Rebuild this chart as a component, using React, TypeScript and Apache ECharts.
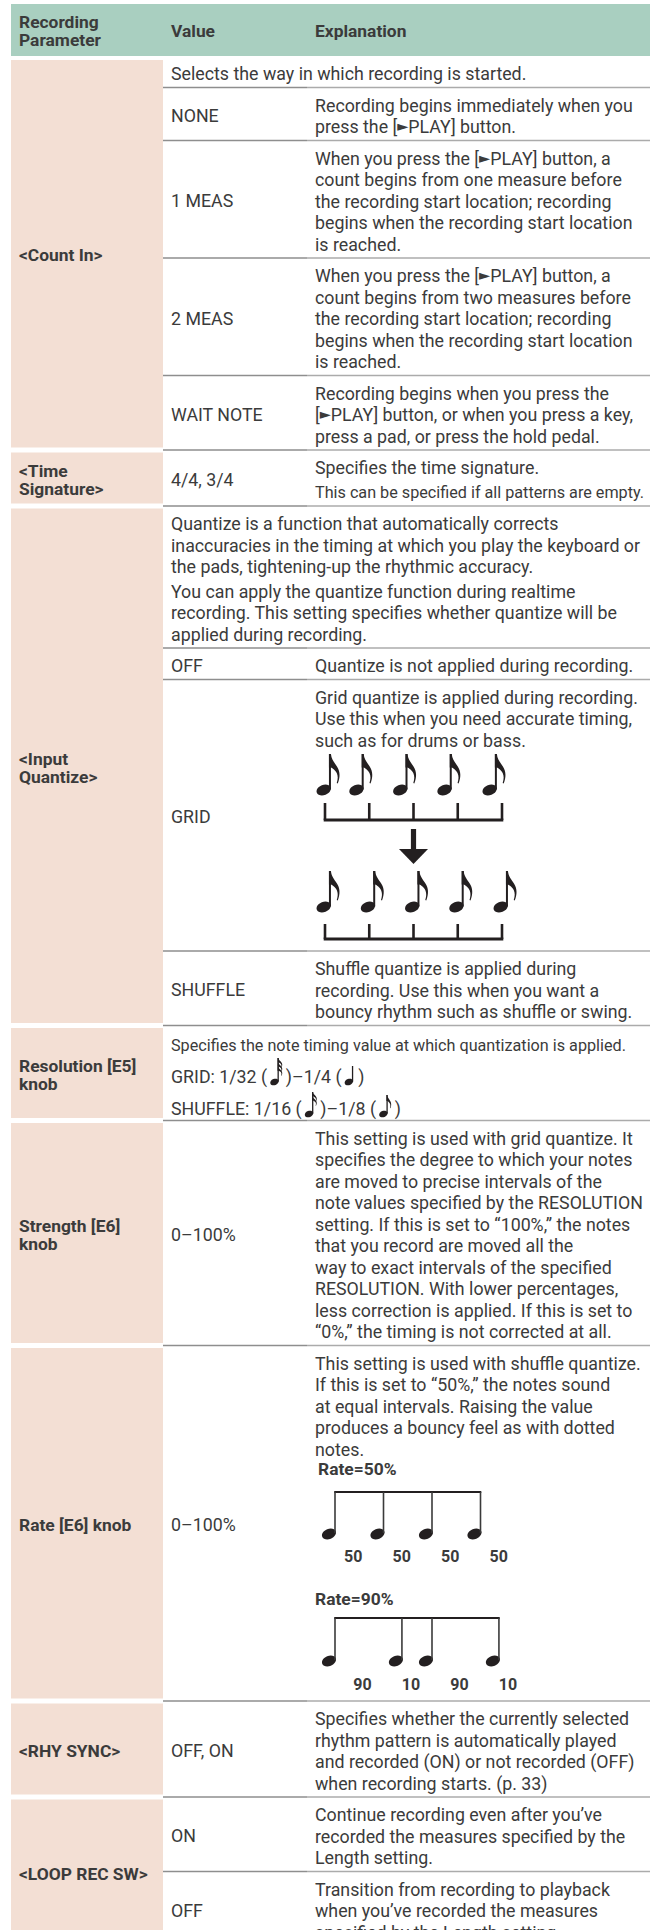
import React, { useEffect, useRef } from "react";
import * as echarts from "echarts";

// ---------------- data ----------------
const headerTitles = ["Recording\nParameter", "Value", "Explanation"];
const parameterLabels = [
  "<Count In>",
  "<Time\nSignature>",
  "<Input\nQuantize>",
  "Resolution [E5]\nknob",
  "Strength [E6]\nknob",
  "Rate [E6] knob",
  "<RHY SYNC>",
  "<LOOP REC SW>",
];

const countInIntro = ["Selects the way in which recording is started."];
const countInValues = ["NONE", "1 MEAS", "2 MEAS", "WAIT NOTE"];
const countInExplanations = [
  ["Recording begins immediately when you", "press the [►PLAY] button."],
  [
    "When you press the [►PLAY] button, a",
    "count begins from one measure before",
    "the recording start location; recording",
    "begins when the recording start location",
    "is reached.",
  ],
  [
    "When you press the [►PLAY] button, a",
    "count begins from two measures before",
    "the recording start location; recording",
    "begins when the recording start location",
    "is reached.",
  ],
  [
    "Recording begins when you press the",
    "[►PLAY] button, or when you press a key,",
    "press a pad, or press the hold pedal.",
  ],
];

const timeSignatureValue = "4/4, 3/4";
const timeSignatureExplanation = "Specifies the time signature.";
const timeSignatureNote = "This can be specified if all patterns are empty.";

const quantizeIntro = [
  [
    "Quantize is a function that automatically corrects",
    "inaccuracies in the timing at which you play the keyboard or",
    "the pads, tightening-up the rhythmic accuracy.",
  ],
  [
    "You can apply the quantize function during realtime",
    "recording. This setting specifies whether quantize will be",
    "applied during recording.",
  ],
];
const quantizeValues = ["OFF", "GRID", "SHUFFLE"];
const quantizeExplanations = [
  ["Quantize is not applied during recording."],
  [
    "Grid quantize is applied during recording.",
    "Use this when you need accurate timing,",
    "such as for drums or bass.",
  ],
  [
    "Shuffle quantize is applied during",
    "recording. Use this when you want a",
    "bouncy rhythm such as shuffle or swing.",
  ],
];
const gridPlayedTiming = [0, 0.74, 1.73, 2.73, 3.75];
const gridQuantizedTiming = [0, 1, 2, 3, 4];

const resolutionIntro = "Specifies the note timing value at which quantization is applied.";
const resolutionGridParts = ["GRID: 1/32 (", ")–1/4 (", ")"];
const resolutionGridNotes = [32, 4];
const resolutionShuffleParts = ["SHUFFLE: 1/16 (", ")–1/8 (", ")"];
const resolutionShuffleNotes = [16, 8];

const strengthValue = "0–100%";
const strengthExplanation = [
  "This setting is used with grid quantize. It",
  "specifies the degree to which your notes",
  "are moved to precise intervals of the",
  "note values specified by the RESOLUTION",
  "setting. If this is set to “100%,” the notes",
  "that you record are moved all the",
  "way to exact intervals of the specified",
  "RESOLUTION. With lower percentages,",
  "less correction is applied. If this is set to",
  "“0%,” the timing is not corrected at all.",
];

const rateValue = "0–100%";
const rateExplanation = [
  "This setting is used with shuffle quantize.",
  "If this is set to “50%,” the notes sound",
  "at equal intervals. Raising the value",
  "produces a bouncy feel as with dotted",
  "notes.",
];
const rateExampleTitles = ["Rate=50%", "Rate=90%"];
const rateExampleTiming = [
  [0, 0.5, 1, 1.5],
  [0, 0.69, 1, 1.69],
];
const rateExampleNumbers = [
  ["50", "50", "50", "50"],
  ["90", "10", "90", "10"],
];

const rhySyncValue = "OFF, ON";
const rhySyncExplanation = [
  "Specifies whether the currently selected",
  "rhythm pattern is automatically played",
  "and recorded (ON) or not recorded (OFF)",
  "when recording starts. (p. 33)",
];

const loopValues = ["ON", "OFF"];
const loopExplanations = [
  ["Continue recording even after you’ve", "recorded the measures specified by the", "Length setting."],
  ["Transition from recording to playback", "when you’ve recorded the measures", "specified by the Length setting."],
];

// ---------------- layout / style ----------------
const PAGE_W = 652;
const PAGE_H = 1930;
const FONT = "Roboto, 'Noto Sans', sans-serif";
const TEXT_COLOR = "#3b3b3b";
const INK = "#231f20";
const HEADER_BG = "#a9cfc0";
const PINK = "#f3dfd4";
const SEP_DARK = "#8e8e8e";
const SEP_LIGHT = "#ababab";

const TABLE_L = 11;
const TABLE_R = 650;
const LABEL_R = 163;
const LABEL_X = 19;
const VALUE_X = 171;
const EXPL_X = 315;
const HEADER_TOP = 4;
const HEADER_BOTTOM = 56;

const FS = 17.8;
const FS_SMALL = 16.2;
const FS_BOLD = 17.4;
const LH = 21.5;
const PAD_T = 17.5;
const PAD_B = 14;
const LABEL_LH = 18.5;

const GRID_X0 = 325;
const GRID_STEP = 44.25;
const RATE_X0 = 335;
const RATE_BEAT = 97;

const FLAG_D =
  "M0,0 L2,0 C2.4,5.5 5.5,8.5 8,12.5 C11,17 11.5,22.5 8.8,29.5 L7.8,29 C9.8,23 8.6,18.5 5,15.5 C3.6,14.3 2.4,13.7 2,13.5 L0,13.5 Z";

let shapesRegistered = false;
function ensureShapes() {
  if (shapesRegistered) return;
  echarts.graphic.registerShape("noteFlag", echarts.graphic.extendPath(FLAG_D, {}) as any);
  shapesRegistered = true;
}

function makeMeasurer() {
  const ctx = document.createElement("canvas").getContext("2d");
  return (s: string, size: number, bold = false) => {
    if (!ctx) return s.length * size * 0.5;
    ctx.font = `${bold ? "bold " : ""}${size}px Roboto`;
    return ctx.measureText(s).width;
  };
}

function buildElements() {
  const bg: any[] = [];
  const fg: any[] = [];
  const measure = makeMeasurer();

  const txt = (
    x: number,
    y: number,
    s: string,
    o: { size?: number; bold?: boolean; color?: string; align?: string } = {}
  ) => {
    const align = o.align ?? "left";
    const hasTri = s.indexOf("►") >= 0;
    const style: any = {
      text: hasTri ? s.replace(/►/g, "{tri|►}") : s,
      fill: o.color ?? TEXT_COLOR,
      fontSize: o.size ?? FS,
      fontFamily: FONT,
      fontWeight: o.bold ? "bold" : "normal",
      align,
      verticalAlign: "middle",
      textAlign: align,
      textVerticalAlign: "middle",
    };
    if (hasTri) {
      style.rich = {
        tri: {
          fontSize: 14.5,
          fontFamily: "'DejaVu Sans', sans-serif",
          fill: o.color ?? TEXT_COLOR,
          verticalAlign: "middle",
          padding: [0, 0, 1, 0],
        },
      };
    }
    fg.push({ type: "text", x, y, silent: true, style });
  };

  const rect = (x: number, y: number, w: number, h: number, fill: string, target = fg) =>
    target.push({ type: "rect", silent: true, shape: { x, y, width: w, height: h }, style: { fill } });

  const sep = (y: number) => {
    if (y > PAGE_H) return;
    fg.push({
      type: "line",
      silent: true,
      shape: { x1: LABEL_R, y1: y, x2: EXPL_X - 8, y2: y },
      style: { stroke: SEP_DARK, lineWidth: 1.3 },
    });
    fg.push({
      type: "line",
      silent: true,
      shape: { x1: EXPL_X - 8, y1: y, x2: TABLE_R, y2: y },
      style: { stroke: SEP_LIGHT, lineWidth: 1.3 },
    });
  };

  const note = (
    cx: number,
    cy: number,
    o: { rx: number; ry: number; stemTop: number; stemW: number; flags: number; flagS?: number; flagSY?: number; flagGap?: number; color?: string }
  ) => {
    const color = o.color ?? INK;
    fg.push({
      type: "ellipse",
      silent: true,
      x: cx,
      y: cy,
      rotation: 0.38,
      shape: { cx: 0, cy: 0, rx: o.rx, ry: o.ry },
      style: { fill: color },
    });
    const stemX = cx + o.rx * 0.98 - o.stemW;
    rect(stemX, o.stemTop, o.stemW, cy - o.stemTop - 0.5, color);
    for (let k = 0; k < o.flags; k++) {
      fg.push({
        type: "noteFlag",
        silent: true,
        x: stemX,
        y: o.stemTop + k * (o.flagGap ?? 0),
        scaleX: o.flagS ?? 1,
        scaleY: o.flagSY ?? o.flagS ?? 1,
        style: { fill: color },
      });
    }
    return stemX + o.stemW;
  };

  // ---------- header ----------
  rect(TABLE_L, HEADER_TOP, TABLE_R - TABLE_L, HEADER_BOTTOM - HEADER_TOP, HEADER_BG, bg);
  const headMid = (HEADER_TOP + HEADER_BOTTOM) / 2 + 1;
  const firstHeader = headerTitles[0].split("\n");
  firstHeader.forEach((l, i) =>
    txt(LABEL_X, headMid + (i - (firstHeader.length - 1) / 2) * 18, l, { bold: true, size: FS_BOLD })
  );
  txt(VALUE_X, headMid, headerTitles[1], { bold: true, size: FS_BOLD });
  txt(EXPL_X, headMid, headerTitles[2], { bold: true, size: FS_BOLD });

  // ---------- body ----------
  let y = HEADER_BOTTOM;
  let sectionTop = y;
  let sectionIndex = 0;

  const beginSection = () => {
    sectionTop = y;
  };
  const endSection = () => {
    const top = sectionTop + (sectionIndex === 0 ? 4 : 2.5);
    const bottom = Math.min(y - 2.5, PAGE_H + 10);
    rect(TABLE_L, top, LABEL_R - TABLE_L, bottom - top, PINK, bg);
    const lines = parameterLabels[sectionIndex].split("\n");
    const mid = (sectionTop + y) / 2 + 2;
    lines.forEach((l, i) =>
      txt(LABEL_X, mid + (i - (lines.length - 1) / 2) * LABEL_LH, l, { bold: true, size: FS_BOLD })
    );
    sectionIndex++;
  };

  const pairRow = (value: string, lines: string[], extra = 0) => {
    const top = y;
    const first = top + PAD_T;
    lines.forEach((l, i) => txt(EXPL_X, first + i * LH, l));
    const lastY = first + (lines.length - 1) * LH;
    const bottom = lastY + PAD_B + extra;
    txt(VALUE_X, (top + bottom) / 2 + 1.5, value);
    sep(bottom);
    y = bottom;
    return lastY;
  };

  const spanRow = (paragraphs: string[][], paraGap = 3) => {
    const top = y;
    let cy = top + PAD_T;
    paragraphs.forEach((p, pi) => {
      if (pi > 0) cy += paraGap;
      p.forEach((l, li) => {
        txt(VALUE_X, cy, l);
        if (!(pi === paragraphs.length - 1 && li === p.length - 1)) cy += LH;
      });
    });
    const bottom = cy + PAD_B;
    sep(bottom);
    y = bottom;
  };

  // Count In
  beginSection();
  spanRow([countInIntro]);
  countInValues.forEach((v, i) => pairRow(v, countInExplanations[i]));
  endSection();

  // Time Signature
  beginSection();
  {
    const top = y;
    txt(EXPL_X, top + 17, timeSignatureExplanation);
    txt(EXPL_X, top + 42, timeSignatureNote, { size: FS_SMALL });
    const bottom = top + 56;
    txt(VALUE_X, (top + bottom) / 2 + 1.5, timeSignatureValue);
    sep(bottom);
    y = bottom;
  }
  endSection();

  // Input Quantize
  beginSection();
  spanRow(quantizeIntro);
  pairRow(quantizeValues[0], quantizeExplanations[0]);
  {
    const L = pairRow(quantizeValues[1], quantizeExplanations[1], 211 - PAD_B);
    const eighth = (cx: number, headY: number) =>
      note(cx, headY, { rx: 7.4, ry: 5.1, stemTop: headY - 36, stemW: 2, flags: 1, flagS: 1 });
    const bracket = (tickTop: number, base: number) => {
      const xs = gridQuantizedTiming.map((t) => GRID_X0 + t * GRID_STEP);
      xs.forEach((x) => rect(x - 1.3, tickTop, 2.6, base - tickTop, INK));
      rect(xs[0] - 1.3, base - 1.5, xs[xs.length - 1] - xs[0] + 2.6, 3, INK);
    };
    gridPlayedTiming.forEach((t) => eighth(GRID_X0 - 1.3 + t * GRID_STEP, L + 50));
    bracket(L + 63, L + 80);
    const ax = GRID_X0 + 2 * GRID_STEP;
    rect(ax - 2.6, L + 89, 5.2, 21, INK);
    fg.push({
      type: "polygon",
      silent: true,
      shape: { points: [[ax - 14.5, L + 109], [ax + 14.5, L + 109], [ax, L + 124]] },
      style: { fill: INK },
    });
    gridQuantizedTiming.forEach((t) => eighth(GRID_X0 - 1.3 + t * GRID_STEP, L + 167));
    bracket(L + 184, L + 199);
  }
  pairRow(quantizeValues[2], quantizeExplanations[2]);
  endSection();

  // Resolution
  beginSection();
  {
    const top = y;
    txt(VALUE_X, top + 20, resolutionIntro, { size: FS_SMALL });
    const noteSpec: Record<number, { stem: number; flags: number }> = {
      32: { stem: 24, flags: 3 },
      4: { stem: 16, flags: 0 },
      16: { stem: 22, flags: 2 },
      8: { stem: 19, flags: 1 },
    };
    const richLine = (ly: number, parts: string[], kinds: number[]) => {
      let x = VALUE_X;
      parts.forEach((p, i) => {
        txt(x, ly, p);
        x += measure(p, FS);
        if (i < kinds.length) {
          const spec = noteSpec[kinds[i]];
          const rx = 4.4;
          const cx = x + 3 + rx;
          const headY = ly + 5.5;
          const right = note(cx, headY, {
            rx,
            ry: 3.1,
            stemTop: headY - spec.stem,
            stemW: 1.3,
            flags: spec.flags,
            flagS: 0.45,
            flagSY: spec.flags > 1 ? 0.32 : 0.45,
            flagGap: 4.2,
          });
          x = right + 5 + (spec.flags ? 2 : 0);
        }
      });
    };
    richLine(top + 51, resolutionGridParts, resolutionGridNotes);
    richLine(top + 83, resolutionShuffleParts, resolutionShuffleNotes);
    const bottom = top + 95;
    sep(bottom);
    y = bottom;
  }
  endSection();

  // Strength
  beginSection();
  pairRow(strengthValue, strengthExplanation);
  endSection();

  // Rate
  beginSection();
  {
    const L = pairRow(rateValue, rateExplanation, 252 - PAD_B);
    const example = (k: number, titleY: number, titleX: number, beamY: number, headY: number, numY: number) => {
      txt(titleX, titleY, rateExampleTitles[k], { bold: true, size: FS_BOLD });
      const timing = rateExampleTiming[k];
      const stems = timing.map((t) => RATE_X0 + t * RATE_BEAT);
      rect(stems[0] - 0.8, beamY - 1, stems[stems.length - 1] - stems[0] + 1.6, 2, INK);
      stems.forEach((sx) => {
        fg.push({
          type: "ellipse",
          silent: true,
          x: sx - 6,
          y: headY,
          rotation: 0.38,
          shape: { cx: 0, cy: 0, rx: 7.3, ry: 5 },
          style: { fill: INK },
        });
        rect(sx - 0.8, beamY, 1.6, headY - beamY - 1, "#3a3a3a");
      });
      rateExampleNumbers[k].forEach((n, i) => {
        const end = i + 1 < timing.length ? timing[i + 1] : timing[0] + 2;
        const mid = (timing[i] + end) / 2;
        txt(RATE_X0 + mid * RATE_BEAT - 6, numY, n, { bold: true, size: 16, align: "center" });
      });
    };
    example(0, L + 20, 318, L + 43, L + 85, L + 107);
    example(1, L + 150, 315, L + 169, L + 212, L + 235);
  }
  endSection();

  // RHY SYNC
  beginSection();
  pairRow(rhySyncValue, rhySyncExplanation);
  endSection();

  // LOOP REC SW
  beginSection();
  loopValues.forEach((v, i) => pairRow(v, loopExplanations[i]));
  endSection();

  return [...bg, ...fg];
}

export default function App() {
  const ref = useRef<HTMLDivElement>(null);
  useEffect(() => {
    if (!ref.current) return;
    ensureShapes();
    const chart = echarts.init(ref.current, null, { renderer: "svg", width: PAGE_W, height: PAGE_H });
    chart.setOption({
      animation: false,
      backgroundColor: "#ffffff",
      graphic: { elements: buildElements() },
    });
    return () => chart.dispose();
  }, []);
  return (
    <div
      ref={ref}
      style={{ position: "absolute", left: 0, top: 0, width: PAGE_W, height: PAGE_H, background: "#ffffff" }}
    />
  );
}
